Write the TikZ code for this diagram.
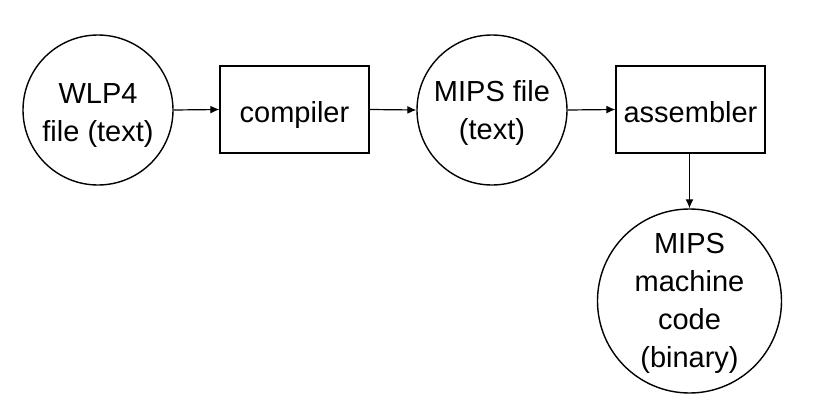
\documentclass[tikz,border=0pt]{standalone}
\usepackage{fontspec}
\setmainfont{Liberation Sans}
\usetikzlibrary{arrows.meta}
\newcommand\lowtext[2]{\raisebox{-#1}[\height][\depth]{\begin{tabular}{@{}c@{}}#2\end{tabular}}}
\begin{document}
\begin{tikzpicture}[x=1pt,y=-1pt,
  every node/.style={font=\fontsize{29}{38}\selectfont, line width=1.4pt, draw},
  datanode/.style={circle, inner sep=-30pt},
  procnode/.style={rectangle, minimum width=149pt, minimum height=87pt, inner sep=0pt},
  flow/.style={line width=1.2pt, -{Latex[length=9pt,width=8pt]}}]
\useasboundingbox (0,0) rectangle (823,407);
\node[datanode, minimum size=150pt] (wlp) at (98,110) {\lowtext{5pt}{WLP4\\file (text)}};
\node[procnode] (comp) at (294.5,109.5) {\lowtext{5pt}{compiler}};
\node[datanode, minimum size=150pt] (mips) at (492,110) {\lowtext{3pt}{MIPS file\\(text)}};
\node[procnode] (asm) at (690.5,109.5) {\lowtext{5pt}{assembler}};
\node[datanode, minimum size=184pt] (bin) at (689.5,301) {\lowtext{2pt}{MIPS\\machine\\code\\(binary)}};
\draw[flow] (wlp.east) -- (comp.west);
\draw[flow] (comp.east) -- (mips.west);
\draw[flow] (mips.east) -- (asm.west);
\draw[flow] (asm.south -| bin.north) -- (bin.north);
\end{tikzpicture}
\end{document}
